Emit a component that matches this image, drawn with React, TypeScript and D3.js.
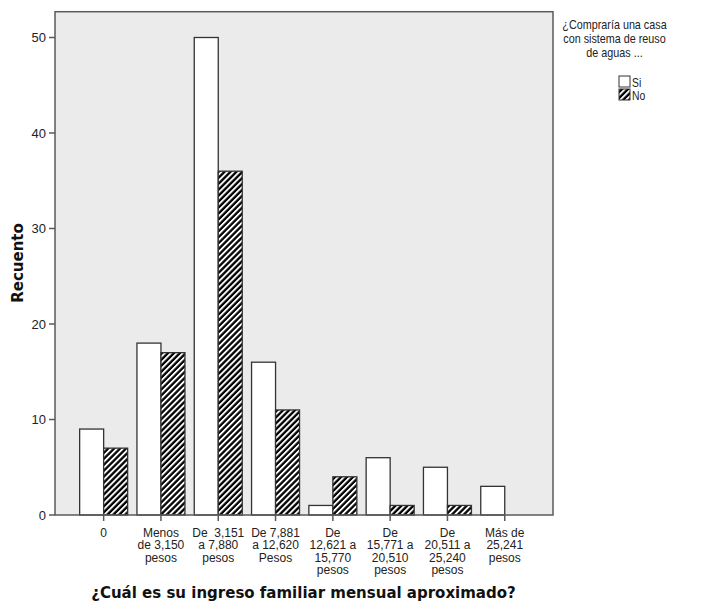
import React from "react";
import * as d3 from "d3";

const categoryLines: string[][] = [
  ["0"],
  ["Menos", "de 3,150", "pesos"],
  ["De  3,151", "a 7,880", "pesos"],
  ["De 7,881", "a 12,620", "Pesos"],
  ["De", "12,621 a", "15,770", "pesos"],
  ["De", "15,771 a", "20,510", "pesos"],
  ["De", "20,511 a", "25,240", "pesos"],
  ["Más de", "25,241", "pesos"],
];
const seriesNames = ["Si", "No"];
const siValues = [9, 18, 50, 16, 1, 6, 5, 3];
const noValues = [7, 17, 36, 11, 4, 1, 1, 0];
const yTicks = [0, 10, 20, 30, 40, 50];
const legendTitleLines = ["¿Compraría una casa", "con sistema de reuso", "de aguas ..."];
const xTitle = "¿Cuál es su ingreso familiar mensual aproximado?";
const yTitle = "Recuento";

const W = 717;
const H = 603;
const plotLeft = 55;
const plotRight = 553;
const baseY = 515;
const y50 = 37.5;
const yTopVal = 52.7;

const sansFont = "'Liberation Sans', Arial, sans-serif";
const boldFont = "'DejaVu Sans', Verdana, sans-serif";

export default function App() {
  const idx = categoryLines.map((_, i) => String(i));
  const x = d3.scaleBand<string>().domain(idx).range([75, 533.4]);
  const groupW = 48;
  const x1 = d3.scaleBand<string>().domain(seriesNames).range([0, groupW]);
  const y = d3.scaleLinear().domain([0, 50]).range([baseY, y50]);
  const plotTop = y(yTopVal);
  const seriesValues = [siValues, noValues];
  const frameColor = "#5a5a5a";
  const barStroke = "#333";
  const narrow = 0.83;

  return (
    <svg width={W} height={H} style={{ position: "absolute", left: 0, top: 0, background: "#fff" }}>
      <defs>
        <pattern id="hatch" patternUnits="userSpaceOnUse" width={4.2} height={4.2} patternTransform="rotate(45)">
          <rect x={0} y={0} width={4.2} height={4.2} fill="#000" />
          <rect x={0} y={0} width={1.9} height={4.2} fill="#fff" />
        </pattern>
      </defs>
      <rect x={plotLeft} y={plotTop} width={plotRight - plotLeft} height={baseY - plotTop} fill="#ebebeb" />
      {seriesValues.map((vals, si) =>
        vals.map((v, i) =>
          v > 0 ? (
            <rect
              key={`${si}-${i}`}
              x={(x(String(i)) as number) + (x.bandwidth() - groupW) / 2 + (x1(seriesNames[si]) as number)}
              y={y(v)}
              width={x1.bandwidth()}
              height={baseY - y(v)}
              fill={si === 0 ? "#fff" : "url(#hatch)"}
              stroke={barStroke}
              strokeWidth={1.3}
            />
          ) : null
        )
      )}
      <rect x={plotLeft} y={plotTop} width={plotRight - plotLeft} height={baseY - plotTop} fill="none" stroke={frameColor} strokeWidth={1.5} />
      {yTicks.map((t) => (
        <g key={t}>
          <line x1={plotLeft - 6} x2={plotLeft} y1={y(t)} y2={y(t)} stroke={frameColor} strokeWidth={1.5} />
          <text x={plotLeft - 9} y={y(t) + 4.5} textAnchor="end" fontFamily={sansFont} fontSize={13} fill="#222">
            {t}
          </text>
        </g>
      ))}
      {categoryLines.map((lines, i) => {
        const cx = (x(String(i)) as number) + x.bandwidth() / 2;
        return (
          <g key={i}>
            <line x1={cx} x2={cx} y1={baseY} y2={baseY + 6} stroke={frameColor} strokeWidth={1.5} />
            <text textAnchor="middle" fontFamily={sansFont} fontSize={12} fill="#222" style={{ whiteSpace: "pre" }}>
              {lines.map((l, j) => (
                <tspan key={j} x={cx} y={536.5 + j * 12.5}>
                  {l}
                </tspan>
              ))}
            </text>
          </g>
        );
      })}
      <text x={303.5} y={598} textAnchor="middle" fontFamily={boldFont} fontWeight="bold" fontSize={15} fill="#111">
        {xTitle}
      </text>
      <text
        transform={`translate(23,263) rotate(-90)`}
        textAnchor="middle"
        fontFamily={boldFont}
        fontWeight="bold"
        fontSize={15}
        fill="#111"
      >
        {yTitle}
      </text>
      <g>
        {legendTitleLines.map((l, j) => (
          <text
            key={j}
            transform={`translate(614.5,${29 + j * 13.8}) scale(${narrow},1)`}
            textAnchor="middle"
            fontFamily={sansFont}
            fontSize={13}
            fill="#222"
          >
            {l}
          </text>
        ))}
        {seriesNames.map((s, j) => (
          <g key={s}>
            <rect x={619} y={76 + j * 13} width={11} height={11} fill={j === 0 ? "#fff" : "url(#hatch)"} stroke={barStroke} strokeWidth={1} />
            <text
              transform={`translate(632,${86.5 + j * 13}) scale(${narrow},1)`}
              fontFamily={sansFont}
              fontSize={12.5}
              fill="#222"
            >
              {s}
            </text>
          </g>
        ))}
      </g>
    </svg>
  );
}
